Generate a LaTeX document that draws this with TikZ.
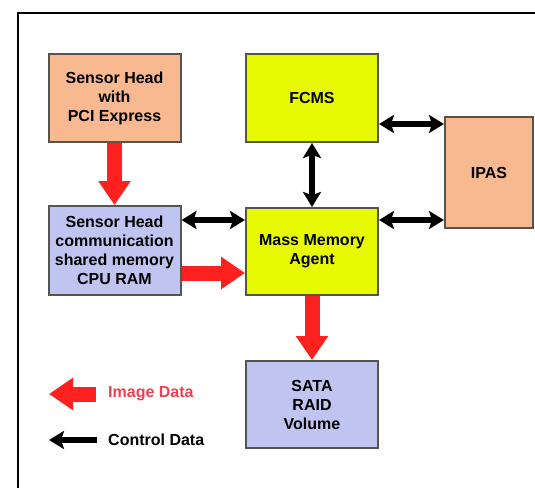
\documentclass[tikz,border=0pt]{standalone}
\usepackage{fontspec}
\setmainfont{Liberation Sans}
\usetikzlibrary{arrows.meta}
\definecolor{peach}{HTML}{F8B890}
\definecolor{limey}{HTML}{E8FA00}
\definecolor{lav}{HTML}{C0C4F0}
\definecolor{boxline}{HTML}{55554D}
\definecolor{imgred}{HTML}{FF2020}
\definecolor{legred}{HTML}{F04050}

\begin{document}
\begin{tikzpicture}[x=1pt,y=-1pt,
   blk/.style={draw=boxline,line width=2pt,minimum width=132pt,minimum height=88pt,
      align=center,inner sep=0pt,font=\fontsize{16}{19}\selectfont\bfseries},
   imgflow/.style={draw=imgred,line width=15pt,-{Triangle[width=31pt,length=24pt]}},
   ctrlflow/.style={line width=6pt,{Stealth[width=18pt,length=15pt,inset=3pt]}-{Stealth[width=18pt,length=15pt,inset=3pt]}},
   legtext/.style={anchor=west,inner sep=0pt,font=\fontsize{16}{19}\selectfont\bfseries}]
   \useasboundingbox (0,0) rectangle (535,487);
   \draw[line width=2pt] (536,12.7) -- (18,12.7) -- (18,488);
   % blocks
   \node[blk,fill=peach] (shpci) at (114.5,98) {Sensor Head\\with\\PCI Express};
   \node[blk,fill=limey] (fcms) at (312,98) {FCMS};
   \node[blk,fill=peach,minimum width=88pt,minimum height=111pt] (ipas) at (489,172.5) {IPAS};
   \node[blk,fill=lav,minimum height=89pt] (shcomm) at (114.5,250.5) {Sensor Head\\communication\\shared memory\\CPU RAM};
   \node[blk,fill=limey,minimum height=87pt] (mma) at (312,251.5) {Mass Memory\\Agent};
   \node[blk,fill=lav,minimum height=87pt] (sata) at (312,404.5) {SATA\\RAID\\Volume};
   % image data
   \draw[imgflow] (shpci.south) -- (shcomm.north);
   \draw[imgflow] ([yshift=-22.5pt]shcomm.east) -- ([yshift=-22.5pt]shcomm.east -| mma.west);
   \draw[imgflow] (mma.south) -- (sata.north);
   % control data
   \draw[ctrlflow] ([yshift=30.5pt]shcomm.east) -- ([yshift=30.5pt]shcomm.east -| mma.west);
   \draw[ctrlflow] (fcms.south) -- (mma.north);
   \draw[ctrlflow] ([yshift=-26pt]fcms.east) -- ([yshift=-26pt]fcms.east -| ipas.west);
   \draw[ctrlflow] ([yshift=31.5pt]mma.east) -- ([yshift=31.5pt]mma.east -| ipas.west);
   % legend
   \coordinate (legimgtail) at (96,394);
   \coordinate (legimgtip) at (49,394);
   \coordinate (legctrltail) at (97,440);
   \coordinate (legctrltip) at (49,440);
   \draw[imgflow] (legimgtail) -- (legimgtip);
   \draw[line width=6pt,-{Stealth[width=18pt,length=15pt,inset=3pt]}] (legctrltail) -- (legctrltip);
   \node[legtext,text=legred] (legimg) at (108,394) {Image Data};
   \node[legtext] (legctrl) at (108,440) {Control Data};
\end{tikzpicture}
\end{document}
